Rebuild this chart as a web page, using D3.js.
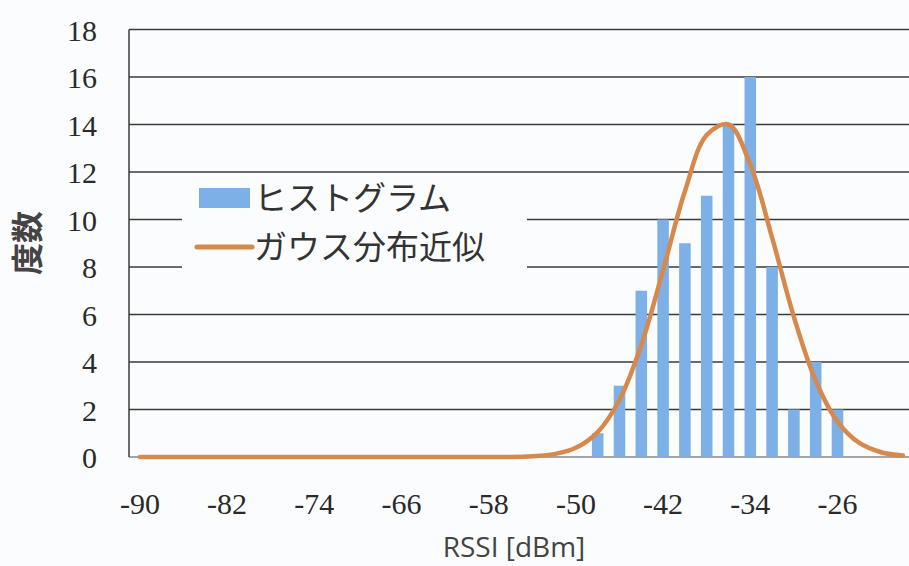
<!DOCTYPE html>
<html lang="ja">
    <head>
        <meta charset="utf-8">
        <title>RSSI ヒストグラム</title>
        <script type="text/javascript" src="https://d3js.org/d3.v7.min.js"></script>
    <style>
        body { margin: 0; background: #fbfcfd; }
        svg { display: block; }
    </style>
    </head>
    <body>
        <script type="text/javascript">

        // categories (bin centres, dBm): -90, -88, ... -20
        const rssi = d3.range(-90, -19, 2);
        // histogram counts, one per category
        const counts = [0,0,0,0,0,0,0,0,0,0,0,0,0,0,0,0,0,0,0,0,0,
                        1,3,7,10,9,11,14,16,8,2,4,2,
                        0,0,0];
        // gaussian fit at each category
        const gauss = [0,0,0,0,0,0,0,0,0,0,0,0,0,0,0,0,0,0,
                       0.03,0.12,0.39,1.05,2.41,4.72,7.87,11.19,13.56,14.0,
                       12.31,9.24,5.90,3.21,1.49,0.59,0.20,0.06];
        const yTicks = [0,2,4,6,8,10,12,14,16,18];
        const xTickLabels = [-90,-82,-74,-66,-58,-50,-42,-34,-26];

        const width = 909;
        const height = 566;
        const plotLeft = 129, plotRight = 129 + 36 * 21.8;
        const plotTop = 29.5, plotBottom = 457;

        const xScale = d3.scaleBand()
                        .domain(rssi)
                        .range([plotLeft, plotRight]);

        const yScale = d3.scaleLinear()
                        .domain([0, 18])
                        .range([plotBottom, plotTop]);

        const svg = d3.select("body")
                    .append("svg")
                    .attr("width", width)
                    .attr("height", height);

        svg.append("rect")
            .attr("width", width)
            .attr("height", height)
            .attr("fill", "#fbfcfd");

        //gridlines
        svg.append("g")
            .selectAll("line")
            .data(yTicks)
            .enter()
            .append("line")
            .attr("x1", plotLeft)
            .attr("x2", width + 10)
            .attr("y1", d => yScale(d))
            .attr("y2", d => yScale(d))
            .attr("stroke", d => d === 0 ? "#888" : "#3a3a3a")
            .attr("stroke-width", 1.5);

        //left axis line
        svg.append("line")
            .attr("x1", plotLeft).attr("x2", plotLeft)
            .attr("y1", yScale(18)).attr("y2", yScale(0))
            .attr("stroke", "#3a3a3a")
            .attr("stroke-width", 1.5);

        //bars
        const barW = xScale.bandwidth() * 0.53;
        svg.append("g")
            .selectAll("rect")
            .data(rssi.map((r, i) => ({r: r, n: counts[i]})).filter(d => d.n > 0))
            .enter()
            .append("rect")
            .attr("x", d => xScale(d.r) + (xScale.bandwidth() - barW) / 2)
            .attr("y", d => yScale(d.n))
            .attr("width", barW)
            .attr("height", d => yScale(0) - yScale(d.n))
            .attr("fill", "#7db0e7");

        //gaussian curve
        const line = d3.line()
                    .x((d, i) => xScale(rssi[i]) + xScale.bandwidth() / 2)
                    .y(d => yScale(d))
                    .curve(d3.curveCatmullRom);

        svg.append("path")
            .datum(gauss)
            .attr("d", line)
            .attr("fill", "none")
            .attr("stroke", "#d6894b")
            .attr("stroke-width", 4.5)
            .attr("stroke-linecap", "round");

        //y axis labels
        const leftAxis = d3.axisLeft(yScale).tickValues(yTicks).tickSize(0).tickPadding(0);
        const gy = svg.append("g")
            .attr("transform", "translate(97,0)")
            .call(leftAxis);
        gy.select(".domain").remove();
        gy.selectAll("text")
            .style("font-family", "'Liberation Serif', serif")
            .style("font-size", "30px")
            .attr("fill", "#2a2a2a")
            .attr("dy", "0.35em");

        //x axis labels
        const bottomAxis = d3.axisBottom(xScale).tickValues(xTickLabels).tickSize(0).tickPadding(0);
        const gx = svg.append("g")
            .attr("transform", "translate(0,493)")
            .call(bottomAxis);
        gx.select(".domain").remove();
        gx.selectAll("text")
            .style("font-family", "'Liberation Serif', serif")
            .style("font-size", "30px")
            .attr("fill", "#2a2a2a")
            .attr("dy", "0.71em");

        //legend
        const lg = svg.append("g");
        lg.append("rect")
            .attr("x", 182).attr("y", 176)
            .attr("width", 345).attr("height", 132)
            .attr("fill", "#fbfcfd");
        lg.append("rect")
            .attr("x", 199).attr("y", 188)
            .attr("width", 51).attr("height", 20)
            .attr("fill", "#7db0e7");
        lg.append("line")
            .attr("x1", 197).attr("x2", 252)
            .attr("y1", 247).attr("y2", 247)
            .attr("stroke", "#d6894b")
            .attr("stroke-width", 5)
            .attr("stroke-linecap", "round");
        lg.selectAll("text")
            .data(["ヒストグラム", "ガウス分布近似"])
            .enter()
            .append("text")
            .attr("x", 254)
            .attr("y", (d, i) => 198 + i * 49)
            .attr("dy", "0.36em")
            .style("font-family", "'Noto Sans CJK JP', sans-serif")
            .style("font-size", "33px")
            .attr("fill", "#333")
            .text(d => d);

        //axis titles
        svg.append("text")
            .attr("x", 514)
            .attr("y", 557)
            .attr("text-anchor", "middle")
            .style("font-family", "'Open Sans', sans-serif")
            .style("font-size", "28px")
            .attr("fill", "#444")
            .text("RSSI [dBm]");

        svg.append("text")
            .attr("transform", "translate(27,243) rotate(-90)")
            .attr("text-anchor", "middle")
            .attr("dy", "0.36em")
            .style("font-family", "'Noto Sans CJK JP', sans-serif")
            .style("font-size", "32px")
            .style("font-weight", "bold")
            .attr("fill", "#444")
            .text("度数");

        </script>
    </body>
</html>
